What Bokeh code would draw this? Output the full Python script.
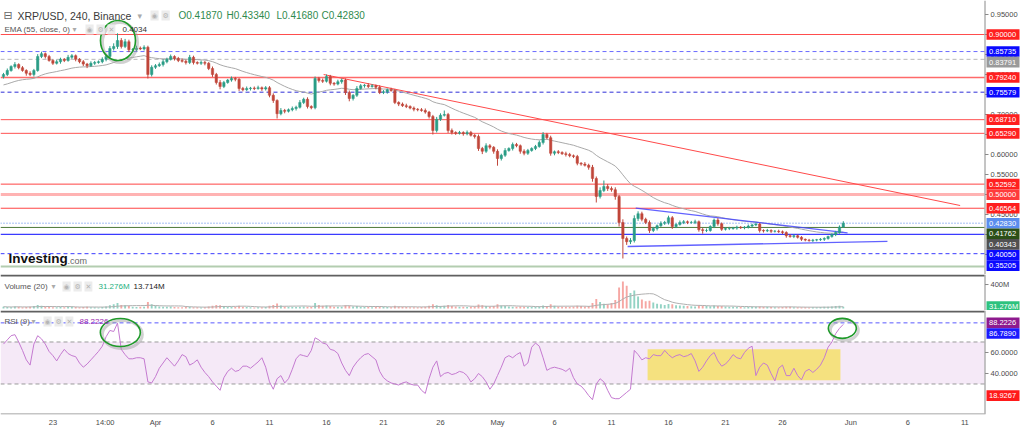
import pandas as pd
from bokeh.plotting import figure
from bokeh.layouts import column
from bokeh.models import Range1d, FixedTicker, Label, ColumnDataSource, BoxAnnotation
from bokeh.core.properties import value
from bokeh.embed import file_html
from bokeh.resources import INLINE

FONT = "Liberation Sans"

# ---------------- data ----------------
symbol_title = "XRP/USD, 240, Binance"
candle_start = "2022-03-18 16:00"
candle_step_hours = 8
first_open = 0.795
closes = [
    0.800, 0.810, 0.820, 0.825, 0.817, 0.810, 0.803, 0.800, 0.810, 0.845,
    0.852, 0.845, 0.835, 0.828, 0.832, 0.838, 0.835, 0.843, 0.847, 0.838,
    0.832, 0.826, 0.822, 0.828, 0.830, 0.832, 0.838, 0.845, 0.865, 0.870,
    0.885, 0.870, 0.882, 0.862, 0.862, 0.866, 0.864, 0.868, 0.800, 0.818,
    0.822, 0.825, 0.832, 0.838, 0.845, 0.840, 0.835, 0.833, 0.830, 0.843,
    0.830, 0.828, 0.830, 0.828, 0.815, 0.800, 0.780, 0.770, 0.780, 0.786,
    0.790, 0.788, 0.765, 0.762, 0.765, 0.766, 0.765, 0.767, 0.764, 0.767,
    0.748, 0.735, 0.702, 0.710, 0.708, 0.712, 0.715, 0.718, 0.730, 0.738,
    0.720, 0.717, 0.790, 0.785, 0.783, 0.795, 0.778, 0.776, 0.782, 0.786,
    0.755, 0.740, 0.748, 0.765, 0.772, 0.773, 0.770, 0.772, 0.768, 0.755,
    0.757, 0.762, 0.760, 0.730, 0.726, 0.722, 0.720, 0.716, 0.713, 0.712,
    0.710, 0.706, 0.695, 0.660, 0.688, 0.698, 0.700, 0.660, 0.655, 0.653,
    0.655, 0.652, 0.655, 0.648, 0.645, 0.615, 0.608, 0.622, 0.618, 0.608,
    0.590, 0.598, 0.610, 0.615, 0.625, 0.622, 0.608, 0.603, 0.610, 0.615,
    0.620, 0.630, 0.650, 0.642, 0.603, 0.607, 0.605, 0.602, 0.600, 0.597,
    0.595, 0.578, 0.576, 0.573, 0.568, 0.540, 0.495, 0.510, 0.520, 0.515,
    0.512, 0.495, 0.430, 0.390, 0.382, 0.385, 0.440, 0.452, 0.438, 0.430,
    0.410, 0.415, 0.422, 0.428, 0.430, 0.442, 0.420, 0.425, 0.430, 0.432,
    0.430, 0.430, 0.432, 0.412, 0.410, 0.410, 0.420, 0.436, 0.427, 0.413,
    0.415, 0.415, 0.416, 0.418, 0.417, 0.418, 0.421, 0.424, 0.426, 0.410,
    0.409, 0.410, 0.408, 0.408, 0.407, 0.405, 0.397, 0.395, 0.397, 0.393,
    0.388, 0.386, 0.385, 0.386, 0.387, 0.388, 0.390, 0.395, 0.400, 0.405,
    0.4187, 0.4283,
]
# upper / lower wick lengths in thousandths of a dollar
wick_up = [
    4, 5, 3, 6, 3, 4, 3, 5, 4, 6, 5, 3, 4, 3, 5, 4, 3, 6, 4, 3,
    3, 4, 3, 5, 4, 3, 5, 4, 6, 8, 18, 6, 7, 5, 4, 6, 4, 5, 4, 5,
    4, 5, 6, 4, 5, 3, 4, 5, 4, 6, 4, 3, 5, 4, 3, 5, 4, 6, 4, 3,
    5, 4, 3, 4, 5, 3, 4, 5, 3, 4, 4, 5, 3, 6, 4, 3, 5, 4, 6, 4,
    5, 3, 5, 4, 5, 5, 4, 3, 5, 4, 4, 5, 3, 6, 4, 3, 5, 4, 3, 5,
    4, 3, 5, 4, 3, 4, 5, 3, 4, 3, 4, 5, 3, 4, 6, 5, 10, 4, 5, 3,
    4, 3, 5, 4, 3, 5, 4, 6, 4, 3, 5, 4, 6, 3, 5, 4, 3, 5, 4, 3,
    4, 5, 6, 4, 5, 3, 4, 3, 5, 4, 3, 4, 3, 5, 4, 6, 5, 8, 15, 6,
    5, 6, 4, 8, 5, 6, 8, 6, 5, 4, 5, 4, 3, 5, 4, 5, 4, 3, 5, 4,
    3, 4, 5, 3, 4, 5, 3, 4, 5, 3, 3, 4, 3, 4, 3, 3, 4, 3, 4, 3,
    3, 4, 3, 3, 4, 3, 3, 4, 3, 3, 3, 2, 3, 3, 2, 3, 3, 2, 3, 4,
    4, 5,
]
wick_dn = [
    5, 4, 3, 5, 4, 3, 6, 4, 5, 3, 4, 5, 3, 4, 3, 5, 4, 3, 4, 5,
    4, 5, 6, 3, 4, 3, 4, 5, 3, 5, 6, 5, 4, 6, 5, 4, 3, 4, 10, 5,
    4, 3, 5, 4, 3, 5, 4, 3, 5, 4, 5, 3, 4, 5, 4, 6, 5, 7, 4, 3,
    4, 5, 6, 4, 3, 5, 4, 3, 5, 4, 5, 6, 12, 4, 5, 3, 4, 5, 3, 4,
    5, 4, 4, 5, 4, 3, 5, 4, 3, 5, 6, 7, 5, 4, 3, 5, 4, 3, 5, 4,
    4, 5, 3, 4, 5, 3, 4, 3, 5, 4, 3, 4, 5, 10, 5, 4, 3, 6, 5, 4,
    3, 5, 4, 3, 5, 6, 7, 4, 5, 6, 18, 5, 4, 3, 5, 4, 6, 5, 4, 3,
    4, 3, 5, 4, 6, 5, 4, 3, 5, 4, 4, 5, 4, 3, 6, 8, 15, 5, 4, 6,
    5, 8, 10, 50, 8, 6, 5, 6, 5, 4, 6, 4, 5, 3, 4, 5, 6, 4, 3, 4,
    4, 3, 4, 5, 8, 4, 3, 4, 5, 4, 3, 4, 3, 4, 3, 4, 3, 4, 3, 5,
    4, 3, 4, 3, 3, 4, 5, 3, 4, 3, 4, 3, 3, 4, 3, 3, 4, 3, 3, 4,
    3, 2,
]
volume_m = [
    30, 25, 22, 35, 28, 20, 25, 30, 40, 60, 45, 30, 25, 22, 20, 25, 22, 30, 28, 25,
    22, 25, 30, 22, 20, 18, 25, 35, 55, 70, 90, 60, 55, 40, 30, 25, 28, 30, 110, 70,
    45, 35, 30, 28, 32, 25, 22, 20, 25, 30, 22, 20, 18, 20, 35, 45, 60, 55, 40, 30,
    28, 25, 45, 30, 25, 20, 18, 22, 20, 25, 45, 60, 85, 50, 35, 30, 28, 25, 30, 35,
    28, 25, 90, 60, 45, 50, 40, 30, 28, 30, 55, 45, 35, 40, 30, 28, 25, 22, 25, 35,
    28, 25, 22, 45, 35, 28, 25, 22, 20, 22, 25, 30, 45, 70, 55, 40, 45, 60, 40, 35,
    30, 28, 25, 30, 35, 65, 55, 40, 35, 40, 70, 50, 40, 35, 30, 28, 32, 30, 25, 28,
    30, 35, 50, 40, 70, 45, 35, 30, 28, 30, 32, 45, 40, 35, 40, 90, 160, 110, 80, 70,
    90, 140, 350, 450, 380, 260, 300, 200, 150, 120, 130, 100, 80, 70, 60, 75, 70, 55, 50, 45,
    40, 38, 35, 55, 45, 40, 38, 50, 42, 40, 35, 30, 28, 25, 24, 22, 25, 28, 30, 35,
    30, 28, 25, 22, 20, 25, 30, 28, 22, 20, 22, 20, 18, 20, 22, 25, 28, 30, 35, 40,
    45, 31.276,
]
rsi_values = [
    68, 72, 76, 77, 70, 62, 53, 48, 68, 76, 73, 68, 61, 57, 52, 58, 63, 59, 57, 56,
    50, 46, 49, 53, 57, 61, 66, 75, 81, 80, 88, 63, 58, 54, 54, 55, 55, 54, 32, 31,
    37, 45, 50, 55, 51, 47, 52, 58, 56, 48, 50, 53, 46, 41, 37, 32, 28, 24, 36, 42,
    45, 42, 43, 47, 47, 45, 48, 51, 55, 46, 32, 25, 35, 38, 31, 35, 44, 54, 58, 57,
    56, 62, 74, 72, 69, 68, 63, 62, 59, 50, 43, 38, 46, 51, 55, 58, 59, 56, 53, 42,
    36, 33, 31, 30, 29, 31, 32, 30, 29, 29, 24, 21, 35, 46, 52, 37, 40, 41, 39, 40,
    42, 41, 38, 32, 35, 40, 37, 32, 25, 30, 38, 46, 55, 57, 55, 58, 60, 47, 50, 65,
    69, 66, 55, 43, 45, 46, 45, 44, 42, 45, 36, 30, 28, 24, 19, 15, 30, 35, 32, 24,
    17, 16, 16, 19, 22, 25, 62, 58, 53, 55, 54, 58, 57, 57, 62, 58, 55, 57, 58, 56,
    57, 59, 52, 42, 46, 52, 57, 60, 52, 47, 49, 53, 58, 55, 54, 60, 64, 66, 38, 46,
    50, 48, 40, 33, 45, 48, 38, 38, 45, 38, 34, 42, 44, 41, 44, 48, 55, 65, 70, 78,
    83, 86.789,
]
ema_period = 55
ema_start_value = 0.772
vol_ma_period = 20
header_ohlc = [0.41870, 0.43340, 0.41680, 0.42830]
ema_last = 0.40343
vol_ma_last = 13.714
rsi_period = 9
rsi_marks = [88.2226, 86.7890, 18.9267]
rsi_mark_colors = ["#8e1a8e", "#1a1aff", "#ff1a1a"]
rsi_highlight = ["2022-05-14 04:00", "2022-05-31 02:00", 33.5, 63.0]

level_values = [0.90000, 0.85735, 0.83791, 0.79240, 0.75579, 0.68710, 0.65290,
                0.52592, 0.50000, 0.46564, 0.42830, 0.41762, 0.40050, 0.35205]
level_colors = ["#ff4d4d", "#6b6bff", "#b8b8b8", "#ff6a6a", "#2e2ed8", "#ff5252", "#ff5252",
                "#ff4444", "#ffb3b3", "#ff4444", "#4a7fe8", "#4e7a3a", "#3b3bff", "#3b3bff"]
level_dash = ["solid", "4 3", "4 3", "solid", "4 3", "solid", "solid",
              "solid", "solid", "solid", "1 2", "solid", "solid", "4 3"]
level_width = [1, 1, 1, 1.5, 1, 1, 1, 1, 3, 1, 1, 1, 1.2, 1]
level_label_bg = ["#ff1f1f", "#0a0aff", "#9a9a9a", "#ff1f1f", "#0a0aff", "#ff1f1f", "#ff1f1f",
                  "#ff1f1f", "#ff3b3b", "#ff1f1f", "#5b8def", "#2b4f17", "#0a0aff", "#0a0aff"]
support_level = 0.320

price_ticks = [0.35, 0.40, 0.45, 0.50, 0.55, 0.60, 0.65, 0.70, 0.75, 0.80, 0.85, 0.90, 0.95]
vol_ticks = [400]
rsi_ticks = [40, 60]
rsi_bands = [30, 70]

tick_dates = ["2022-03-23", "2022-03-27 14:00", "2022-04-01", "2022-04-06", "2022-04-11",
              "2022-04-16", "2022-04-21", "2022-04-26", "2022-05-01", "2022-05-06",
              "2022-05-11", "2022-05-16", "2022-05-21", "2022-05-26", "2022-06-01",
              "2022-06-06", "2022-06-11"]
tick_labels = ["23", "14:00", "Apr", "6", "11", "16", "21", "26", "May", "6", "11",
               "16", "21", "26", "Jun", "6", "11"]

trend_red = (["2022-04-15 18:00", "2022-06-10 14:00"], [0.800, 0.4725])
tri_upper = (["2022-05-13 03:00", "2022-05-31 17:00"], [0.466, 0.404])
tri_lower = (["2022-05-12 10:00", "2022-06-04 05:00"], [0.370, 0.383])
circle_price = ("2022-03-28 17:00", 0.885)
circle_rsi = [("2022-03-28 22:00", 79.0), ("2022-05-31 06:00", 83.0)]

view_window = ("2022-03-18 09:42", "2022-06-12 17:18")

# ---------------- layout helpers ----------------
BASE = pd.Timestamp("2022-03-01")


def hours(t):
    return (pd.Timestamp(t) - BASE) / pd.Timedelta(hours=1)


X0, XA = hours(view_window[0]), hours(view_window[1])
PANE_W = 984                  # chart area width (px); price scale to the right
TOTAL_W = 1024
SX = PANE_W / (XA - X0)       # px per hour
X1 = X0 + TOTAL_W / SX
MAIN_H, VOL_H, RSI_H, AX_H = 274, 36, 104, 14
P_RANGE = (0.30, 0.985)
V_RANGE = (-33.0, 567.0)
R_RANGE = (0.95, 100.0)
SP = MAIN_H / (P_RANGE[1] - P_RANGE[0])
SV = VOL_H / (V_RANGE[1] - V_RANGE[0])
SR = RSI_H / (R_RANGE[1] - R_RANGE[0])


def hx(px):
    return X0 + px / SX


def ym(py):
    return P_RANGE[1] - py / SP


def yv(py):
    return V_RANGE[1] - (py - MAIN_H) / SV


def yr(py):
    return R_RANGE[1] - (py - MAIN_H - VOL_H) / SR


n = min(len(closes), len(wick_up), len(wick_dn), len(volume_m), len(rsi_values))
times = pd.date_range(candle_start, periods=n, freq=f"{candle_step_hours}h")
xs = [(t - BASE) / pd.Timedelta(hours=1) for t in times]
opens = [first_open] + closes[:n - 1]
highs = [max(o, c) + w / 1000 for o, c, w in zip(opens, closes, wick_up)]
lows = [min(o, c) - w / 1000 for o, c, w in zip(opens, closes, wick_dn)]
up = [c >= o for o, c in zip(opens, closes)]

UPC, DNC = "#2a9d86", "#c0463a"
col = [UPC if u else DNC for u in up]
vcol = ["#93d3c4" if u else "#f6a7a3" for u in up]
src = ColumnDataSource(dict(x=xs, o=opens, c=closes, h=highs, l=lows, col=col,
                            top=[max(a, b) for a, b in zip(opens, closes)],
                            bot=[min(a, b) for a, b in zip(opens, closes)],
                            vol=volume_m[:n], vcol=vcol, rsi=rsi_values[:n]))

# EMA of closes (55 periods of 4h -> equivalent on 8h bars)
alpha = 1 - (1 - 2 / (ema_period + 1)) ** (candle_step_hours / 4)
ema, e = [], ema_start_value
for c in closes[:n]:
    e = e + alpha * (c - e)
    ema.append(e)
vol_ma = pd.Series(volume_m[:n]).rolling(int(vol_ma_period * 4 / candle_step_hours),
                                          min_periods=1).mean().tolist()


def make_fig(h, yrange, with_xaxis=False):
    f = figure(frame_width=TOTAL_W, frame_height=h, x_range=Range1d(X0, X1),
               y_range=Range1d(*yrange), output_backend="svg", toolbar_location=None,
               x_axis_location="below" if with_xaxis else None, y_axis_location=None,
               min_border_left=0, min_border_right=0, min_border_top=0,
               min_border_bottom=AX_H if with_xaxis else 0)
    f.outline_line_color = None
    f.xgrid.visible = False
    f.ygrid.visible = False
    f.background_fill_color = "white"
    f.border_fill_color = "white"
    return f


def price_scale(f, yrange, ticks, labels):
    """right-hand price scale: axis line, tick marks and tick labels"""
    f.segment(x0=[hx(984.5)], x1=[hx(984.5)], y0=[yrange[0]], y1=[yrange[1]],
              line_color="#8a8a8a", line_width=1)
    k = len(ticks)
    f.segment(x0=[hx(984.5)] * k, x1=[hx(988)] * k, y0=ticks, y1=ticks,
              line_color="#8a8a8a", line_width=1)
    f.text(x=[hx(990)] * k, y=ticks, text=labels, text_font=value(FONT),
           text_font_size="7.5px", text_color="#4a4a4a", text_baseline="middle",
           text_align="left")


def scale_labels(f, yvals, texts, bgs, scale):
    hh = 5.3 / scale
    f.quad(left=[hx(986)] * len(yvals), right=[hx(1019)] * len(yvals),
           top=[v + hh for v in yvals], bottom=[v - hh for v in yvals],
           fill_color=bgs, line_color=None)
    f.text(x=[hx(988.5)] * len(yvals), y=yvals, text=texts, text_font=value(FONT),
           text_font_size="7.5px", text_color="white", text_baseline="middle",
           text_align="left")


def stack(vals, scale, gap):
    order = sorted(range(len(vals)), key=lambda k: -vals[k])
    out, prev = [0] * len(vals), None
    for k in order:
        v = vals[k]
        if prev is not None and (prev - v) * scale < gap:
            v = prev - gap / scale
        out[k] = v
        prev = v
    return out


def hline(f, yv_, color, dash="solid", width=1.0):
    f.segment(x0=[X0], x1=[hx(984)], y0=[yv_], y1=[yv_], line_color=color,
              line_dash=dash, line_width=width)


def txt(f, x, y, text, size="8px", color="#555555", style="normal", font=FONT):
    f.add_layout(Label(x=x, y=y, text=text, text_font=font, text_font_size=size,
                       text_color=color, text_font_style=style, text_align="left",
                       text_baseline="middle"))


def icons(f, x, y, glyphs):
    for k, g in enumerate(glyphs):
        f.add_layout(Label(x=x, y=y, x_offset=k * 11, text=g, text_font="DejaVu Sans",
                           text_font_size="7px", text_color="#b5b5b5", text_align="left",
                           text_baseline="middle", background_fill_color="#ececec",
                           background_fill_alpha=1.0, padding=1))


# ---------------- main price pane ----------------
p = make_fig(MAIN_H, P_RANGE)
for v, c, d, w in zip(level_values, level_colors, level_dash, level_width):
    hline(p, v, c, d, w)
hline(p, support_level, "#b3cdb0", "solid", 2)

p.line(xs, ema, line_color="#a9a9a9", line_width=1)
p.line([hours(t) for t in trend_red[0]], trend_red[1], line_color="#ff4a4a", line_width=1)
for seg in (tri_upper, tri_lower):
    p.line([hours(t) for t in seg[0]], seg[1], line_color="#4646ff", line_width=1.3,
           line_alpha=0.85)

p.segment(x0="x", y0="h", x1="x", y1="l", line_color="col", line_width=1, source=src)
p.vbar(x="x", top="top", bottom="bot", width=5.0, fill_color="col", line_color="col",
       line_width=0.5, source=src)

cx, cy = hours(circle_price[0]), circle_price[1]
p.ellipse(x=[cx + 2 / SX], y=[cy - 2 / SP], width=[35 / SX], height=[40 / SP],
          fill_color=None, line_color="#9a9a9a", line_alpha=0.45, line_width=3)
p.ellipse(x=[cx], y=[cy], width=[35 / SX], height=[40 / SP], fill_color=None,
          line_color="#1f9a2a", line_width=1.6)

price_scale(p, P_RANGE, price_ticks, [f"{t:.5f}" for t in price_ticks])
lab_vals = level_values + [ema_last]
scale_labels(p, stack(lab_vals, SP, 10.6), [f"{v:.5f}" for v in lab_vals],
             level_label_bg + ["#505050"], SP)

txt(p, hx(3), ym(15), "\u229f", size="11px", color="#666666", font="DejaVu Sans")
txt(p, hx(17), ym(15), symbol_title, size="10.5px", color="#3a3a3a")
txt(p, hx(137), ym(15), "\u25be", size="9px", color="#aaaaaa", font="DejaVu Sans")
icons(p, hx(150), ym(15), ["\u25c9", "\u2699"])
for xpos, lab, v in zip([178, 226, 276, 321], "OHLC", header_ohlc):
    txt(p, hx(xpos), ym(15), f"{lab}{v:.5f}", size="10px", color="#2f8a4e")
txt(p, hx(4), ym(29), f"EMA ({ema_period}, close, 0)", size="8px", color="#555555")
txt(p, hx(72), ym(29), "\u25be", size="8px", color="#aaaaaa", font="DejaVu Sans")
icons(p, hx(85), ym(29), ["\u25c9", "\u2699", "\u2715"])
txt(p, hx(122), ym(29), f"{ema_last:.4f}", size="8px", color="#333333")
txt(p, hx(8), ym(258), "Investing", size="13.5px", color="#111111", style="bold")
txt(p, hx(67), ym(260), ".com", size="9px", color="#666666")

# ---------------- volume pane ----------------
pv = make_fig(VOL_H, V_RANGE)
pv.vbar(x="x", top="vol", bottom=0, width=4.0, fill_color="vcol", line_color=None,
        source=src)
pv.line(xs, vol_ma, line_color="#b0b0b0", line_width=1)
hline(pv, V_RANGE[1] - 1 / SV, "#606060", "solid", 2)
price_scale(pv, V_RANGE, vol_ticks, [f"{t}M" for t in vol_ticks])
scale_labels(pv, [volume_m[n - 1]], [f"{volume_m[n - 1]:.3f}M"], ["#2ec27e"], SV)
txt(pv, hx(4), yv(286), f"Volume ({vol_ma_period})", size="8px")
txt(pv, hx(51), yv(286), "\u25be", size="8px", color="#aaaaaa", font="DejaVu Sans")
icons(pv, hx(62), yv(286), ["\u25c9", "\u2699", "\u2715"])
txt(pv, hx(98), yv(286), f"{volume_m[n - 1]:.3f}M", size="8px", color="#26b07e")
txt(pv, hx(133), yv(286), f"{vol_ma_last:.3f}M", size="8px", color="#222222")

# ---------------- RSI pane ----------------
pr = make_fig(RSI_H, R_RANGE, with_xaxis=True)
pr.quad(left=[X0], right=[hx(984)], bottom=[rsi_bands[0]], top=[rsi_bands[1]],
        fill_color="#9c27b0", fill_alpha=0.1, line_color=None)
pr.quad(left=[hours(rsi_highlight[0])], right=[hours(rsi_highlight[1])],
        bottom=[rsi_highlight[2]], top=[rsi_highlight[3]],
        fill_color="#f4df6a", fill_alpha=0.85, line_color=None)
for b in rsi_bands:
    hline(pr, b, "#9a9a9a", "4 3", 1)
hline(pr, rsi_marks[0], "#5a5aff", "4 3", 1)
pr.line(x="x", y="rsi", source=src, line_color="#c47ad0", line_width=1)
for (t, v), (w, hgt) in zip(circle_rsi, [(40, 28), (28, 20)]):
    ex, ey = hours(t), v
    pr.ellipse(x=[ex + 2 / SX], y=[ey - 2 / SR], width=[w / SX], height=[hgt / SR],
               fill_color=None, line_color="#9a9a9a", line_alpha=0.45, line_width=3)
    pr.ellipse(x=[ex], y=[ey], width=[w / SX], height=[hgt / SR], fill_color=None,
               line_color="#1f9a2a", line_width=1.6)
hline(pr, R_RANGE[1] - 1 / SR, "#606060", "solid", 2)
hline(pr, R_RANGE[0] + 0.5 / SR, "#8a8a8a", "solid", 1)
price_scale(pr, R_RANGE, rsi_ticks, [f"{t:.4f}" for t in rsi_ticks])
scale_labels(pr, stack(rsi_marks, SR, 10.6), [f"{v:.4f}" for v in rsi_marks],
             rsi_mark_colors, SR)
txt(pr, hx(4), yr(321), f"RSI ({rsi_period})", size="8px")
txt(pr, hx(31), yr(321), "\u25be", size="8px", color="#aaaaaa", font="DejaVu Sans")
icons(pr, hx(43), yr(321), ["\u25c9", "\u2699", "\u2715"])
txt(pr, hx(79), yr(321), f"{rsi_marks[0]:.4f}", size="8px", color="#9c27b0")

xa = pr.xaxis[0]
tick_pos = [int(round(hours(t))) for t in tick_dates]
xa.ticker = FixedTicker(ticks=tick_pos)
xa.major_label_overrides = {t: l for t, l in zip(tick_pos, tick_labels)}
xa.axis_line_color = None
xa.major_tick_out = 0
xa.major_tick_in = 0
xa.minor_tick_out = 0
xa.minor_tick_in = 0
xa.major_label_standoff = 3
xa.major_label_text_font = FONT
xa.major_label_text_font_size = "7.5px"
xa.major_label_text_color = "#4a4a4a"

layout = column(p, pv, pr, spacing=0)
open("out.html", "w").write(file_html(layout, INLINE))
